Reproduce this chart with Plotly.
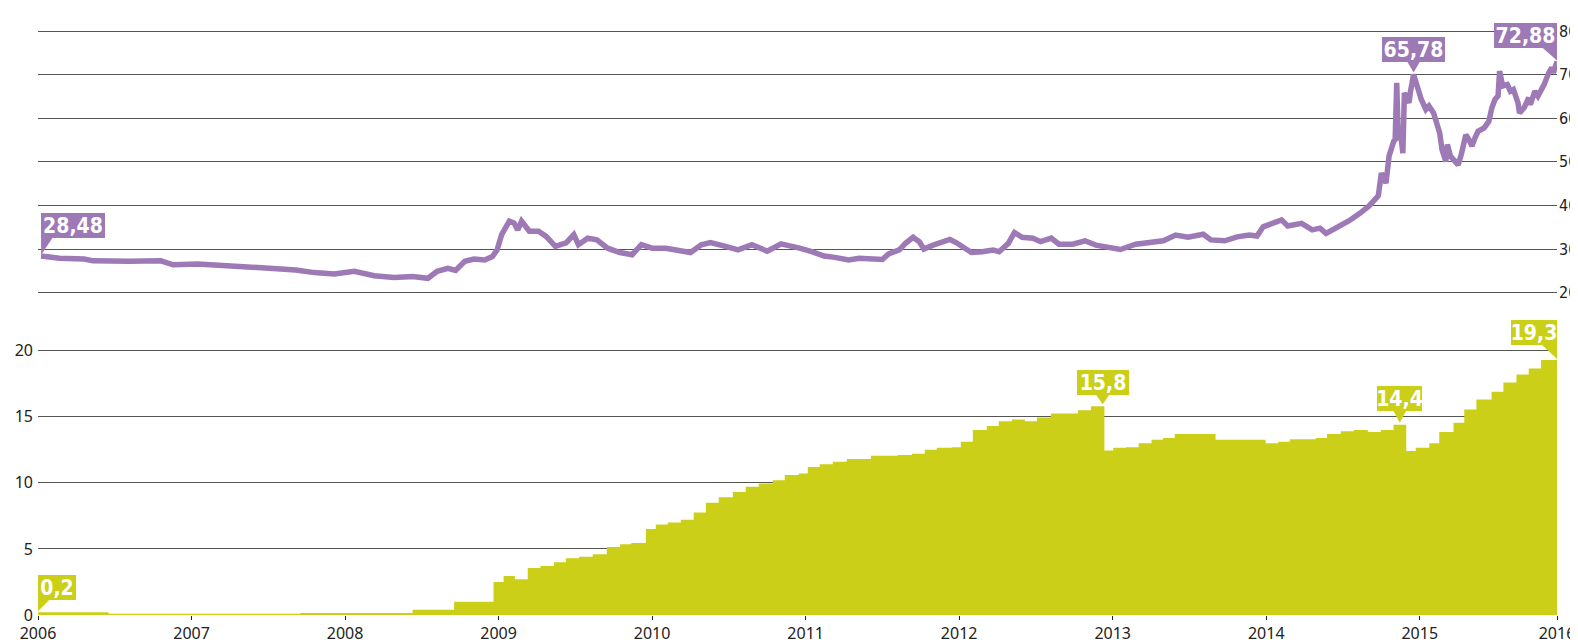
import plotly.graph_objects as go

# ---- Top series: exchange-rate line (decimal-year positions, values) ----
LINE_X = [2006.02, 2006.14, 2006.30, 2006.36, 2006.59, 2006.80, 2006.88, 2007.04, 2007.23, 2007.39,
          2007.55, 2007.68, 2007.80, 2007.93, 2008.06, 2008.19, 2008.32, 2008.44, 2008.54, 2008.60,
          2008.67, 2008.72, 2008.78, 2008.84, 2008.91, 2008.96, 2008.99, 2009.02, 2009.07, 2009.10,
          2009.125, 2009.15, 2009.20, 2009.26, 2009.31, 2009.37, 2009.44, 2009.49, 2009.52, 2009.58,
          2009.64, 2009.71, 2009.79, 2009.87, 2009.93, 2010.00, 2010.09, 2010.17, 2010.25, 2010.32,
          2010.38, 2010.46, 2010.56, 2010.65, 2010.75, 2010.84, 2010.89, 2010.96,
          2011.04, 2011.12, 2011.19, 2011.28, 2011.35, 2011.43, 2011.50, 2011.54, 2011.61, 2011.65,
          2011.70, 2011.74, 2011.77, 2011.83, 2011.88, 2011.94, 2011.98, 2012.02, 2012.08, 2012.15,
          2012.22, 2012.26, 2012.32, 2012.36, 2012.41, 2012.48, 2012.53, 2012.60, 2012.65, 2012.74,
          2012.82, 2012.89, 2013.00, 2013.05, 2013.15, 2013.26, 2013.33, 2013.41, 2013.49, 2013.59,
          2013.64, 2013.73, 2013.81, 2013.89, 2013.94, 2013.98, 2014.03, 2014.10, 2014.14, 2014.23,
          2014.30, 2014.35, 2014.39, 2014.47, 2014.54, 2014.61, 2014.67, 2014.73, 2014.75, 2014.78,
          2014.80, 2014.83, 2014.84, 2014.85, 2014.86, 2014.88, 2014.89, 2014.90, 2014.93, 2014.94,
          2014.96, 2014.99, 2015.01, 2015.04, 2015.06, 2015.09, 2015.11, 2015.13, 2015.145, 2015.17,
          2015.18, 2015.20, 2015.22, 2015.25, 2015.27, 2015.30, 2015.32, 2015.34, 2015.36, 2015.38,
          2015.42, 2015.45, 2015.47, 2015.49, 2015.51, 2015.52, 2015.54, 2015.57, 2015.59, 2015.61,
          2015.64, 2015.65, 2015.68, 2015.71, 2015.72, 2015.75, 2015.77, 2015.81, 2015.84, 2015.86,
          2015.87, 2015.894]
LINE_Y = [28.4, 27.9, 27.7, 27.3, 27.2, 27.3, 26.4, 26.6, 26.2, 25.8,
          25.6, 25.2, 24.6, 24.3, 24.9, 23.9, 23.5, 23.7, 23.3, 24.9,
          25.6, 25.1, 27.2, 27.7, 27.5, 28.3, 29.8, 33.3, 36.4, 36.0,
          34.4, 36.4, 34.1, 34.1, 32.9, 30.6, 31.4, 33.3, 31.0, 32.5,
          32.1, 30.2, 29.2, 28.7, 31.0, 30.2, 30.2, 29.7, 29.2, 31.0,
          31.5, 30.8, 29.8, 31.0, 29.5, 31.2, 30.9, 30.2,
          29.4, 28.4, 28.1, 27.5, 27.9, 27.9, 27.6, 28.9, 29.8, 31.3,
          32.7, 31.7, 30.0, 30.9, 31.5, 32.2, 31.5, 30.5, 29.2, 29.4,
          29.8, 29.4, 31.3, 33.8, 32.7, 32.5, 31.7, 32.5, 31.1, 31.1,
          31.9, 30.9, 30.2, 29.9, 31.1, 31.5, 31.9, 33.2, 32.7, 33.4,
          32.1, 31.9, 32.8, 33.2, 33.0, 35.1, 35.7, 36.7, 35.3, 35.9,
          34.4, 34.8, 33.6, 35.1, 36.5, 38.2, 39.9, 42.2, 47.4, 45.1,
          51.3, 54.7, 55.1, 68.1, 55.9, 55.1, 52.0, 65.8, 63.5, 66.2,
          70.0, 66.6, 64.3, 62.0, 62.8, 61.2, 59.3, 56.6, 52.8, 50.1,
          54.0, 51.3, 50.5, 49.3, 51.6, 56.2, 55.1, 53.6, 55.5, 57.0,
          57.8, 59.3, 62.4, 64.3, 65.1, 70.8, 67.4, 67.7, 66.2, 66.6,
          63.5, 61.2, 62.4, 64.7, 63.1, 66.2, 65.1, 67.7, 70.4, 71.6,
          70.4, 73.0]

# ---- Bottom series: stepped values (step start, value) ----
STEP_X = [2006.0, 2006.46, 2007.71, 2008.44, 2008.71, 2008.967, 2009.033, 2009.106, 2009.19, 2009.273,
          2009.36, 2009.438, 2009.524, 2009.613, 2009.705, 2009.791, 2009.864, 2009.959, 2010.024, 2010.102,
          2010.187, 2010.271, 2010.350, 2010.434, 2010.526, 2010.610, 2010.695, 2010.786, 2010.864, 2010.955,
          2011.014, 2011.092, 2011.177, 2011.268, 2011.425, 2011.600, 2011.692, 2011.776, 2011.854, 2011.952,
          2012.011, 2012.089, 2012.180, 2012.258, 2012.343, 2012.428, 2012.506, 2012.597, 2012.773, 2012.858,
          2012.946, 2013.004, 2013.088, 2013.169, 2013.253, 2013.327, 2013.404, 2013.670, 2013.996, 2014.077,
          2014.154, 2014.323, 2014.396, 2014.486, 2014.571, 2014.662, 2014.747, 2014.829, 2014.912, 2014.974,
          2015.062, 2015.127, 2015.220, 2015.290, 2015.369, 2015.468, 2015.545, 2015.63, 2015.71, 2015.79,
          2015.894]
STEP_Y = [0.2, 0.1, 0.15, 0.4, 1.0, 2.5, 2.95, 2.7, 3.55, 3.7,
          4.0, 4.3, 4.4, 4.6, 5.15, 5.35, 5.45, 6.5, 6.85, 7.0,
          7.2, 7.75, 8.5, 8.9, 9.3, 9.7, 9.95, 10.2, 10.6, 10.7,
          11.2, 11.4, 11.6, 11.8, 12.05, 12.1, 12.2, 12.5, 12.65, 12.7,
          13.1, 14.0, 14.3, 14.65, 14.8, 14.65, 14.95, 15.25, 15.5, 15.8,
          12.45, 12.65, 12.7, 13.0, 13.25, 13.4, 13.7, 13.25, 13.0, 13.1,
          13.3, 13.4, 13.7, 13.9, 14.0, 13.85, 14.0, 14.4, 12.4, 12.65,
          13.0, 13.85, 14.55, 15.55, 16.3, 16.9, 17.6, 18.2, 18.65, 19.3,
          19.3]

# ---- Axis ticks ----
X_TICKS = [2006, 2007, 2008, 2009, 2010, 2011, 2012, 2013, 2014, 2015, 2015.894]
X_TICK_LABELS = ["2006", "2007", "2008", "2009", "2010", "2011", "2012", "2013", "2014", "2015", "2016"]
TOP_TICKS = [20, 30, 40, 50, 60, 70, 80]
BOTTOM_TICKS = [0, 5, 10, 15, 20]

# ---- Callouts: (text, x, y, tail kind) ----
TOP_CALLOUTS = [("28,48", 2006.02, 28.4, "left"), ("65,78", 2014.96, 70.0, "center"), ("72,88", 2015.894, 73.0, "right")]
BOTTOM_CALLOUTS = [("0,2", 2006.0, 0.2, "left"), ("15,8", 2012.935, 15.8, "center"),
                   ("14,4", 2014.87, 14.4, "center"), ("19,3", 2015.894, 19.3, "right")]

PURPLE = "#9d79b6"
GREEN = "#cbcf18"
GRID = "#555555"
TXT = "#222222"
TICKFONT = dict(family="Noto Sans, DejaVu Sans, sans-serif", size=16, color=TXT)
RIGHTFONT = dict(family="DejaVu Sans Condensed, Noto Sans, sans-serif", size=16, color=TXT)
CALLFONT = dict(family="DejaVu Sans Condensed, Liberation Sans Narrow, sans-serif",
                size=21, color="white", weight="bold")

fig = go.Figure()
fig.add_trace(go.Scatter(x=STEP_X, y=STEP_Y, mode="lines", line=dict(shape="hv", width=0, color=GREEN),
                         fill="tozeroy", fillcolor=GREEN, xaxis="x", yaxis="y", hoverinfo="skip"))
fig.add_trace(go.Scatter(x=LINE_X, y=LINE_Y, mode="lines", line=dict(color=PURPLE, width=5.5),
                         xaxis="x", yaxis="y2", hoverinfo="skip"))

annotations = []
shapes = []


def add_callout(text, x, y, yref, kind, color, lift, width):
    h = 25
    if kind == "left":
        xanchor = "left"
        tail = "M0,1 L0,%d L12,%d Z" % (lift + 1, lift + 1)
    elif kind == "right":
        xanchor = "right"
        tail = "M0,1 L0,%d L-16,%d Z" % (lift + 1, lift + 1)
    else:
        xanchor = "center"
        tail = "M0,2 L-7,%d L7,%d Z" % (lift + 1, lift + 1)
    annotations.append(dict(text=text, x=x, y=y, xref="x", yref=yref, xanchor=xanchor, yanchor="bottom",
                            yshift=lift, showarrow=False, bgcolor=color, width=width,
                            height=h, borderpad=0, borderwidth=0, font=CALLFONT, align="center",
                            valign="middle"))
    shapes.append(dict(type="path", xref="x", yref=yref, xsizemode="pixel", ysizemode="pixel",
                       xanchor=x, yanchor=y, path=tail, fillcolor=color, line=dict(width=0)))


widths = {"28,48": 64, "65,78": 63, "72,88": 63, "0,2": 38, "15,8": 52, "14,4": 45, "19,3": 46}
lifts = {"28,48": 18, "65,78": 13, "72,88": 14, "0,2": 12, "15,8": 11, "14,4": 14, "19,3": 15}
for t, x, y, k in TOP_CALLOUTS:
    add_callout(t, x, y, "y2", k, PURPLE, lifts[t], widths[t])
for t, x, y, k in BOTTOM_CALLOUTS:
    add_callout(t, x, y, "y", k, GREEN, lifts[t], widths[t])

# The page adds an 8px body margin, so the figure is made 8px smaller and shifted accordingly.
fig.update_layout(
    width=1570, height=634,
    margin=dict(l=30, r=21, t=2, b=27, autoexpand=False),
    paper_bgcolor="white", plot_bgcolor="white",
    showlegend=False,
    xaxis=dict(range=[2006, 2015.894], tickvals=X_TICKS, ticktext=X_TICK_LABELS, showgrid=False,
               zeroline=False, ticks="outside", ticklen=4, tickwidth=1, tickcolor=TXT,
               tickfont=TICKFONT, anchor="y", showline=False, automargin=False),
    yaxis=dict(domain=[0, 0.4579], range=[0, 20.96], tickvals=BOTTOM_TICKS, showgrid=True,
               gridcolor=GRID, gridwidth=1, zeroline=True, zerolinecolor="rgba(0,0,0,0)",
               tickfont=TICKFONT, ticks="", anchor="x", ticklabelstandoff=4, automargin=False),
    yaxis2=dict(domain=[0.5207, 1], range=[18.326, 84.815], tickvals=TOP_TICKS, showgrid=True,
                gridcolor=GRID, gridwidth=1, zeroline=False, side="right", anchor="x",
                tickfont=RIGHTFONT, ticks="", ticklabelstandoff=1, automargin=False),
    annotations=annotations,
    shapes=shapes,
)

fig.write_html("out.html")
